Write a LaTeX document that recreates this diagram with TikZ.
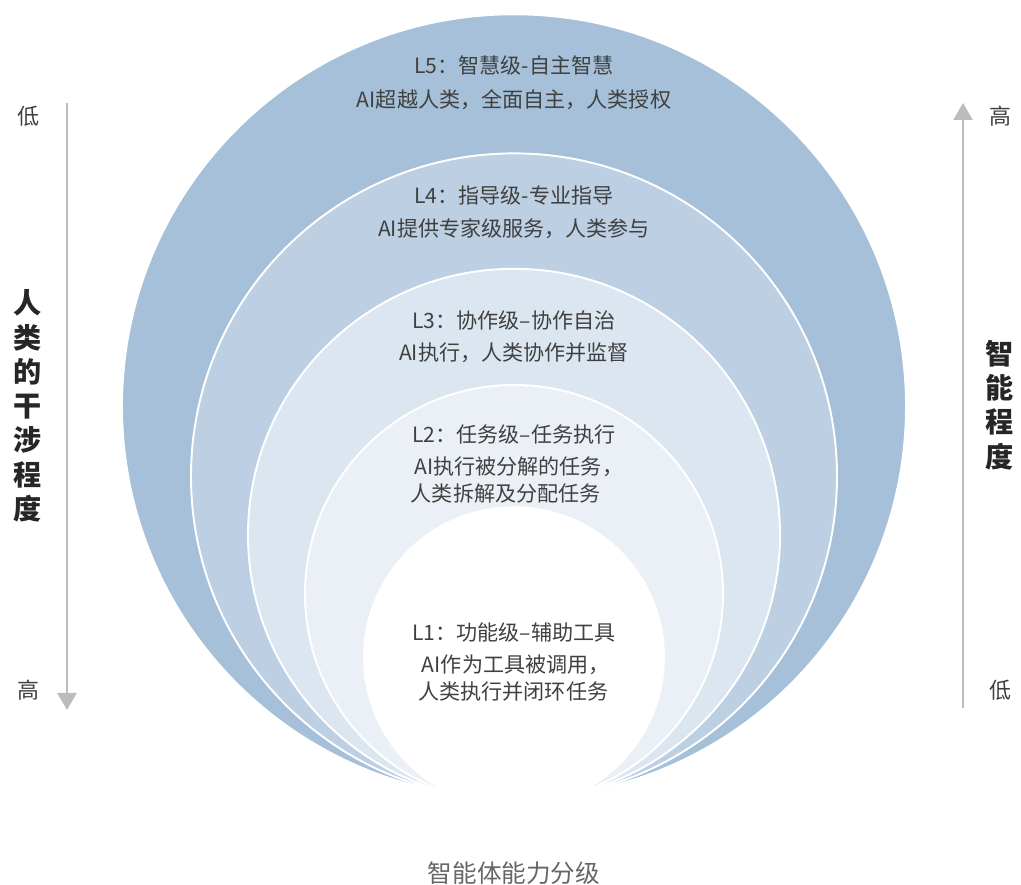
\documentclass[tikz,border=0pt]{standalone}
\usepackage{fontspec}
\setmainfont{Noto Sans CJK SC}
\usetikzlibrary{arrows.meta}
\definecolor{ringfive}{HTML}{A5C0D8}
\definecolor{ringfour}{HTML}{BDCFE2}
\definecolor{ringthree}{HTML}{DCE6F0}
\definecolor{ringtwo}{HTML}{EAF0F5}
\definecolor{textgrey}{HTML}{404040}
\definecolor{axisgrey}{HTML}{BCBCC0}

\begin{document}
\begin{tikzpicture}[x=0.02cm,y=0.02cm,>={Triangle[width=0.38cm,length=0.34cm]},
  ring/.style={draw=white,line width=1.1pt},
  ringtext/.style={text=textgrey,font=\fontsize{12}{15.5}\selectfont,inner sep=0pt},
  axisarrow/.style={->,draw=axisgrey,line width=1.4pt},
  axisend/.style={text=textgrey,font=\fontsize{12.5}{16}\selectfont,inner sep=0pt},
  axisname/.style={text=black!85,font=\bfseries\fontsize{16}{19.5}\selectfont,align=center,inner sep=0pt}]
\useasboundingbox (0,0) rectangle (1021,885);
% rings, outermost first; all pass through the two bottom tips
\filldraw[ring,fill=ringfive](514,478.7) circle (392);
\filldraw[ring,fill=ringfour](514,408.6) circle (323);
\filldraw[ring,fill=ringthree](514,350.2) circle (266);
\filldraw[ring,fill=ringtwo](514,291) circle (209);
\filldraw[ring,fill=white](514,227.7) circle (150);
% level texts
\node[ringtext] (l5title) at (514,820) {L5：智慧级-自主智慧};
\node[ringtext] (l5desc) at (514,785) {AI超越人类，全面自主，人类授权};
\node[ringtext] (l4title) at (514,689) {L4：指导级-专业指导};
\node[ringtext] (l4desc) at (514,656) {AI提供专家级服务，人类参与};
\node[ringtext] (l3title) at (514,565) {L3：协作级–协作自治};
\node[ringtext] (l3desc) at (514,532) {AI执行，人类协作并监督};
\node[ringtext] (l2title) at (514,450) {L2：任务级–任务执行};
\node[ringtext,align=left] (l2desc) at (517,405) {\,AI执行被分解的任务，\\人类拆解及分配任务};
\node[ringtext] (l1title) at (514,253) {L1：功能级–辅助工具};
\node[ringtext,align=left] (l1desc) at (514,207) {\,AI作为工具被调用，\\人类执行并闭环任务};
% axes
\coordinate (ltop) at (67,782);
\coordinate (lbot) at (67,175);
\coordinate (rbot) at (963,177);
\coordinate (rtop) at (963,782);
\draw[axisarrow] (ltop) -- (lbot);
\draw[axisarrow] (rbot) -- (rtop);
\node[axisend] (llow) at (28,769) {低};
\node[axisend] (lhigh) at (28,195) {高};
\node[axisend] (rhigh) at (1000,769) {高};
\node[axisend] (rlow) at (1000,195) {低};
\node[axisname] (human) at (28,479) {人\\类\\的\\干\\涉\\程\\度};
\node[axisname] (smart) at (1000,480) {智\\能\\程\\度};
\node[text=black!60,font=\fontsize{14}{17}\selectfont,inner sep=0pt] (caption) at (514,12) {智能体能力分级};
\end{tikzpicture}
\end{document}
